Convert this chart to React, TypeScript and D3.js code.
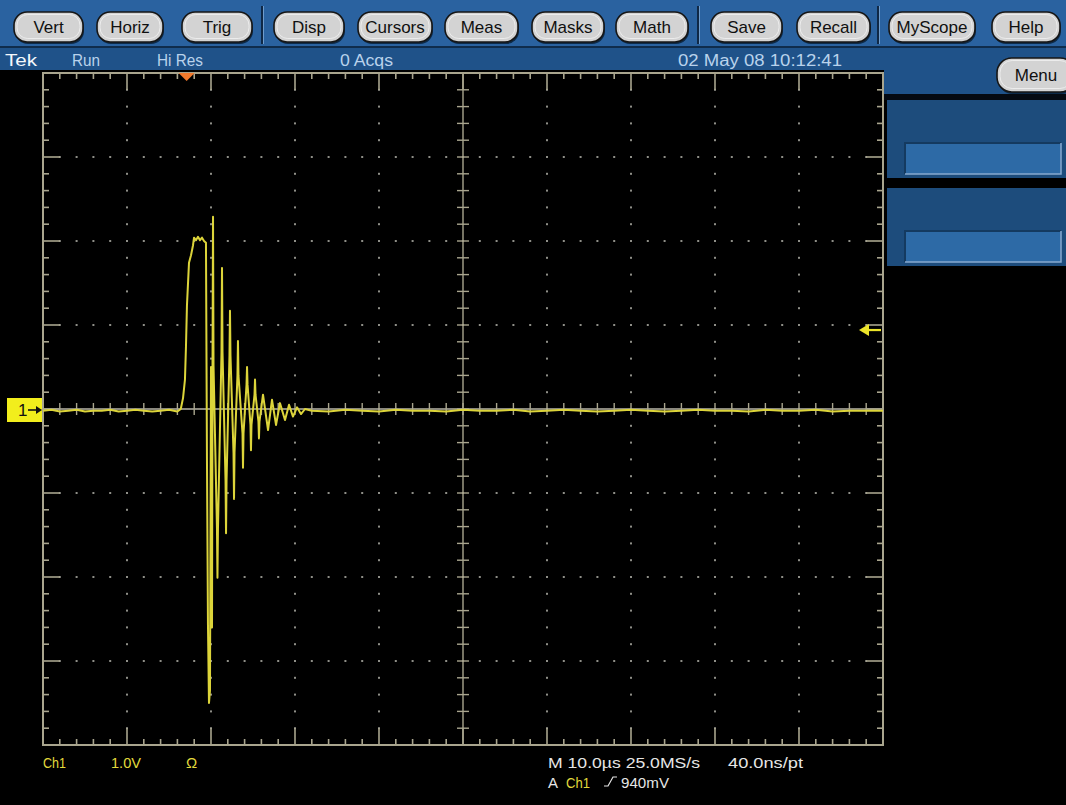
import React from 'react';
import * as d3 from 'd3';

const W = 1066;
const H = 805;

// ---- Channel 1 record (time in µs from left edge of screen, volts) ----
const timeUs = [
  0, 1, 2, 3, 4, 5, 6, 7, 8, 9, 10, 11, 12, 13, 14, 15, 16, 16.4,
  16.67, 16.9, 17.02, 17.14, 17.38, 17.62, 17.86, 17.98, 18.21, 18.45, 18.69, 18.93, 19.17, 19.4,
  19.52, 19.64, 19.76, 19.88, 20.0, 20.12, 20.18, 20.24, 20.3,
  20.71, 20.77, 20.83, 21.25, 21.31, 21.37, 21.73, 21.79, 21.85, 22.2, 22.26, 22.32,
  22.68, 22.74, 22.8, 23.15, 23.21, 23.27, 23.75, 23.81, 23.87, 24.23, 24.29, 24.35,
  24.7, 24.76, 24.82, 25.18, 25.24, 25.3, 25.65, 25.71, 25.77,
  26.19, 26.79, 27.26, 27.74, 28.21, 28.81, 29.29, 29.76, 30.24, 30.71, 31.19,
  32, 34, 36, 38, 40, 42, 44, 46, 48, 50, 52, 54, 56, 58, 60, 62, 64, 66, 68, 70,
  72, 74, 76, 78, 80, 82, 84, 86, 88, 90, 92, 94, 96, 98, 100,
];
const ch1Volts = [
  -0.02, -0.01, -0.03, -0.02, -0.01, -0.03, -0.02, -0.02, -0.01, -0.03, -0.02, -0.01, -0.02, -0.03, -0.02, -0.01, -0.03, 0.0,
  0.13, 0.35, 0.74, 1.24, 1.74, 1.83, 1.95, 2.04, 2.01, 2.05, 2.01, 2.04, 2.0, 1.98,
  -0.61, -2.57, -3.5, -3.35, 0.5, -2.6, 0.52, 2.29, 0.52,
  -1.42, -2.01, -1.42, 0.68, 1.68, 0.68, -0.85, -1.48, -0.85, 0.64, 1.17, 0.64,
  -0.52, -1.07, -0.52, 0.4, 0.81, 0.4, -0.29, -0.7, -0.29, 0.29, 0.5, 0.29,
  -0.19, -0.49, -0.19, 0.17, 0.35, 0.17, -0.15, -0.35, -0.15,
  0.17, -0.25, 0.11, -0.19, 0.07, -0.13, 0.05, -0.09, 0.02, -0.06, 0.0,
  -0.02, -0.03, -0.01, -0.02, -0.03, -0.01, -0.02, -0.02, -0.03, -0.01, -0.02, -0.02, -0.01, -0.03, -0.02, -0.01, -0.02, -0.03, -0.02, -0.01,
  -0.02, -0.03, -0.02, -0.01, -0.02, -0.02, -0.03, -0.01, -0.02, -0.02, -0.01, -0.03, -0.02, -0.02, -0.02,
];

// ---- Display settings ----
const timeDivs = 10;
const voltDivs = 8;
const usPerDiv = 10;
const voltsPerDiv = 1.0;
const triggerTimeUs = 17.1;
const triggerLevelV = 0.94;

const menuLabels = ['Vert', 'Horiz', 'Trig', 'Disp', 'Cursors', 'Meas', 'Masks', 'Math', 'Save', 'Recall', 'MyScope', 'Help'];
const statusLabels = ['Tek', 'Run', 'Hi Res', '0 Acqs', '02 May 08 10:12:41'];

// layout of the button row (left, right in px)
const buttonSpans: [number, number][] = [
  [14, 83], [97, 163], [182, 252], [274, 344], [358, 432], [445, 518],
  [532, 604], [616, 688], [711, 782], [797, 870], [889, 975], [992, 1060],
];
const separatorX = [262, 698, 878];
const statusLayout: [number, number][] = [[5, 32], [72, 28], [157, 46], [340, 53], [678, 164]];

const PLOT = { left: 43, right: 883, top: 73, bottom: 745 };

const FONT_UI = "'Liberation Sans', Arial, sans-serif";

function Button({ x0, x1, y0, y1, label }: { x0: number; x1: number; y0: number; y1: number; label: string }) {
  const h = y1 - y0;
  return (
    <g>
      <rect x={x0 + 1} y={y0 + 2} width={x1 - x0} height={h} rx={h / 2.3} fill="#0d2a48" />
      <rect x={x0} y={y0} width={x1 - x0} height={h} rx={h / 2.3} fill="#d3d3d3" stroke="#161616" strokeWidth={1.6} />
      <rect x={x0 + 3} y={y0 + 2.5} width={x1 - x0 - 6} height={h - 6} rx={h / 2.8} fill="none" stroke="#f2f2f2" strokeWidth={1} opacity={0.8} />
      <text
        x={(x0 + x1) / 2}
        y={y0 + h / 2 + 6}
        textAnchor="middle"
        fontFamily={FONT_UI}
        fontSize={17}
        fill="#101010"
      >
        {label}
      </text>
    </g>
  );
}

export default function App() {
  const x = d3.scaleLinear().domain([0, usPerDiv * timeDivs]).range([PLOT.left, PLOT.right]);
  const y = d3
    .scaleLinear()
    .domain([(-voltDivs / 2) * voltsPerDiv, (voltDivs / 2) * voltsPerDiv])
    .range([PLOT.bottom, PLOT.top]);

  const points = timeUs.map((t, i) => [t, ch1Volts[i]] as [number, number]);
  const trace = d3
    .line<[number, number]>()
    .x((d) => x(d[0]))
    .y((d) => y(d[1]))(points) as string;

  const majorT = d3.range(0, usPerDiv * timeDivs + 0.001, usPerDiv);
  const minorT = d3.range(0, usPerDiv * timeDivs + 0.001, usPerDiv / 5);
  const majorV = d3.range(-4, 4.001, voltsPerDiv);
  const minorV = d3.range(-4, 4.001, voltsPerDiv / 5);

  const grat = '#a9a58e';
  const dotCol = '#8f8f88';
  const midT = (usPerDiv * timeDivs) / 2;

  const dots: JSX.Element[] = [];
  majorT.forEach((t) => {
    if (t === 0 || t === 100 || t === midT) return;
    minorV.forEach((v) => {
      dots.push(<rect key={`vt${t}_${v}`} x={x(t) - 1} y={y(v) - 1} width={2} height={2} fill={dotCol} />);
    });
  });
  majorV.forEach((v) => {
    if (v === -4 || v === 4 || v === 0) return;
    minorT.forEach((t) => {
      dots.push(<rect key={`hv${v}_${t}`} x={x(t) - 1} y={y(v) - 1} width={2} height={2} fill={dotCol} />);
    });
  });

  const ticks: JSX.Element[] = [];
  minorT.forEach((t, i) => {
    const major = i % 5 === 0;
    const len = major ? 17 : 6;
    ticks.push(<line key={`tt${i}`} x1={x(t)} x2={x(t)} y1={PLOT.top} y2={PLOT.top + len} stroke={grat} strokeWidth={1.6} />);
    ticks.push(<line key={`tb${i}`} x1={x(t)} x2={x(t)} y1={PLOT.bottom} y2={PLOT.bottom - len} stroke={grat} strokeWidth={1.6} />);
    ticks.push(<line key={`tc${i}`} x1={x(t)} x2={x(t)} y1={y(0) - 6} y2={y(0) + 6} stroke={grat} strokeWidth={1.4} />);
  });
  minorV.forEach((v, i) => {
    const major = i % 5 === 0;
    const len = major ? 17 : 6;
    ticks.push(<line key={`vl${i}`} x1={PLOT.left} x2={PLOT.left + len} y1={y(v)} y2={y(v)} stroke={grat} strokeWidth={1.6} />);
    ticks.push(<line key={`vr${i}`} x1={PLOT.right} x2={PLOT.right - len} y1={y(v)} y2={y(v)} stroke={grat} strokeWidth={1.6} />);
    ticks.push(<line key={`vc${i}`} x1={x(midT) - 6} x2={x(midT) + 6} y1={y(v)} y2={y(v)} stroke={grat} strokeWidth={1.4} />);
  });

  const trigX = x(triggerTimeUs);
  const lvlY = y(triggerLevelV);
  const zeroY = y(0);

  return (
    <svg
      width={W}
      height={H}
      viewBox={`0 0 ${W} ${H}`}
      style={{ position: 'absolute', left: 0, top: 0, display: 'block' }}
    >
      <rect x={0} y={0} width={W} height={H} fill="#000" />

      {/* button bar */}
      <rect x={0} y={0} width={W} height={47} fill="#2a62a0" />
      <line x1={0} x2={W} y1={47} y2={47} stroke="#0f2c4c" strokeWidth={2} />
      {separatorX.map((sx) => (
        <g key={sx}>
          <line x1={sx} x2={sx} y1={6} y2={44} stroke="#0f2846" strokeWidth={2} />
          <line x1={sx + 1.5} x2={sx + 1.5} y1={6} y2={44} stroke="#6f9ccc" strokeWidth={1} />
        </g>
      ))}
      {menuLabels.map((label, i) => (
        <Button key={label} x0={buttonSpans[i][0]} x1={buttonSpans[i][1]} y0={12} y1={42} label={label} />
      ))}

      {/* status bar */}
      <rect x={0} y={48} width={W} height={22} fill="#1f5289" />
      {statusLabels.map((s, i) => (
        <text
          key={s}
          x={statusLayout[i][0]}
          y={66}
          fontFamily={FONT_UI}
          fontSize={16}
          textLength={statusLayout[i][1]}
          lengthAdjust="spacingAndGlyphs"
          fill={i === 0 ? '#f4f8fc' : '#b9d2ec'}
        >
          {s}
        </text>
      ))}

      {/* right-hand menu panel */}
      <rect x={PLOT.right + 1} y={70} width={W - PLOT.right} height={24} fill="#1f5289" />
      <rect x={PLOT.right + 1} y={94} width={W - PLOT.right} height={6} fill="#050a12" />
      <Button x0={997} x1={1075} y0={58} y1={92} label="Menu" />
      {[100, 188].map((py) => (
        <g key={py}>
          <rect x={887} y={py} width={W - 887} height={78} fill="#1d4c7c" />
          <rect x={905} y={py + 43} width={156} height={31} fill="#2d6aa6" />
          <path d={`M905,${py + 74} V${py + 43} H1061`} fill="none" stroke="#143a60" strokeWidth={2} />
          <path d={`M905,${py + 74} H1061 V${py + 43}`} fill="none" stroke="#86a9cf" strokeWidth={1.5} />
        </g>
      ))}

      {/* graticule */}
      {dots}
      <line x1={x(midT)} x2={x(midT)} y1={PLOT.top} y2={PLOT.bottom} stroke={grat} strokeWidth={1.4} />
      <line x1={PLOT.left} x2={PLOT.right} y1={zeroY} y2={zeroY} stroke="#b8b6a8" strokeWidth={1.4} />
      {ticks}
      <rect
        x={PLOT.left}
        y={PLOT.top}
        width={PLOT.right - PLOT.left}
        height={PLOT.bottom - PLOT.top}
        fill="none"
        stroke={grat}
        strokeWidth={2}
      />

      {/* trigger position marker */}
      <path d={`M${trigX - 8},${PLOT.top} L${trigX + 8},${PLOT.top} L${trigX},${PLOT.top + 8} Z`} fill="#f47a2c" />

      {/* channel 1 waveform */}
      <path d={trace} fill="none" stroke="#dcd43a" strokeWidth={2} strokeLinejoin="round" />

      {/* trigger level marker */}
      <path d={`M859,${lvlY} L869,${lvlY - 6} L869,${lvlY + 6} Z`} fill="#ece42a" />
      <line x1={866} x2={881} y1={lvlY} y2={lvlY} stroke="#ece42a" strokeWidth={2.2} />

      {/* channel 1 ground reference */}
      <rect x={7} y={zeroY - 11} width={35} height={24} fill="#f2ee1c" />
      <text x={18} y={zeroY + 7} fontFamily={FONT_UI} fontSize={17} fill="#111">1</text>
      <line x1={28} x2={38} y1={zeroY + 1} y2={zeroY + 1} stroke="#111" strokeWidth={1.6} />
      <path d={`M42,${zeroY + 1} L36,${zeroY - 3} L36,${zeroY + 5} Z`} fill="#111" />

      {/* readouts */}
      <g fontFamily={FONT_UI} fontSize={15}>
        <text x={43} y={768} fill="#e2da3c" textLength={23} lengthAdjust="spacingAndGlyphs">Ch1</text>
        <text x={111} y={768} fill="#e2da3c" textLength={30} lengthAdjust="spacingAndGlyphs">{`${voltsPerDiv.toFixed(1)}V`}</text>
        <text x={186} y={768} fill="#e2da3c">Ω</text>
        <text x={548} y={768} fill="#e6e6e6" textLength={152} lengthAdjust="spacingAndGlyphs">{`M ${usPerDiv.toFixed(1)}µs 25.0MS/s`}</text>
        <text x={728} y={768} fill="#e6e6e6" textLength={75} lengthAdjust="spacingAndGlyphs">40.0ns/pt</text>
        <text x={548} y={788} fill="#e6e6e6">A</text>
        <text x={566} y={788} fill="#e2da3c" textLength={24} lengthAdjust="spacingAndGlyphs">Ch1</text>
        <path d="M604,786 L608,786 L613,777 L617,777" fill="none" stroke="#e6e6e6" strokeWidth={1.2} />
        <text x={621} y={788} fill="#e6e6e6" textLength={48} lengthAdjust="spacingAndGlyphs">{`${Math.round(triggerLevelV * 1000)}mV`}</text>
      </g>
    </svg>
  );
}
